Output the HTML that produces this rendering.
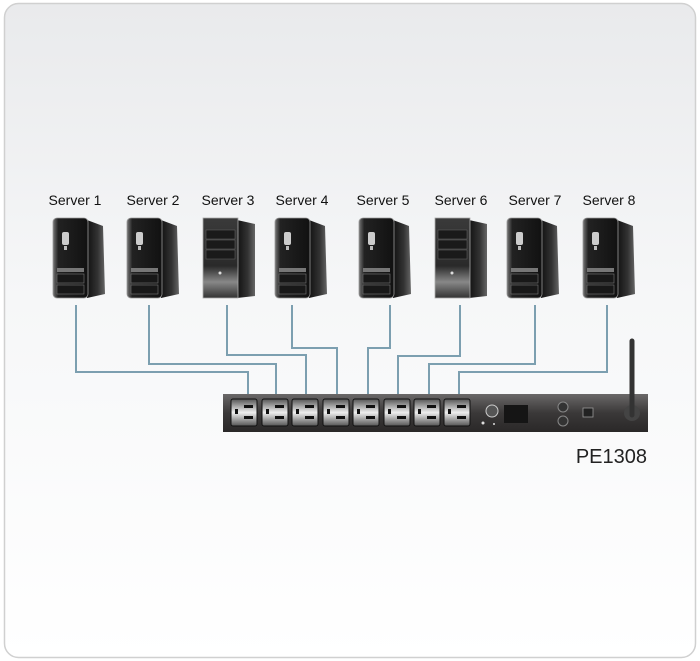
<!DOCTYPE html>
<html><head><style>
html,body{margin:0;padding:0;background:#fff;}
svg{display:block;}
text{font-family:"Liberation Sans",Arial,sans-serif;}
</style></head><body>
<svg width="700" height="661" viewBox="0 0 700 661" xmlns="http://www.w3.org/2000/svg">
<defs>
<linearGradient id="bg" x1="0" y1="0" x2="0" y2="1">
<stop offset="0" stop-color="#e9eaec"/><stop offset="0.45" stop-color="#f6f7f8"/><stop offset="1" stop-color="#ffffff"/>
</linearGradient>
<linearGradient id="front" x1="0" y1="0" x2="1" y2="0">
<stop offset="0" stop-color="#777"/><stop offset="0.15" stop-color="#222"/><stop offset="1" stop-color="#111"/>
</linearGradient>
<linearGradient id="side" x1="0" y1="0" x2="1" y2="0">
<stop offset="0" stop-color="#111"/><stop offset="0.6" stop-color="#333"/><stop offset="1" stop-color="#666"/>
</linearGradient>
<linearGradient id="frontB" x1="0" y1="0" x2="0" y2="1">
<stop offset="0" stop-color="#3a3a3a"/><stop offset="0.6" stop-color="#2a2a2a"/><stop offset="0.8" stop-color="#888"/><stop offset="1" stop-color="#333"/>
</linearGradient>
<linearGradient id="bar" x1="0" y1="0" x2="0" y2="1">
<stop offset="0" stop-color="#6a6868"/><stop offset="0.5" stop-color="#3a3838"/><stop offset="1" stop-color="#2a2828"/>
</linearGradient>
<linearGradient id="out" x1="0" y1="0" x2="0" y2="1">
<stop offset="0" stop-color="#555"/><stop offset="0.5" stop-color="#eee"/><stop offset="1" stop-color="#555"/>
</linearGradient>
<g id="towA">
<path d="M34 2 L50 8 L52 76 L34 80 Z" fill="url(#side)"/>
<rect x="0" y="0" width="35" height="80" rx="4" fill="url(#front)" stroke="#999" stroke-width="0.8"/>
<rect x="9" y="14" width="7" height="13" rx="2" fill="#ccc"/>
<rect x="11" y="28" width="3" height="4" fill="#bbb"/>
<rect x="4" y="50" width="27" height="4" fill="#777"/>
<rect x="4" y="56" width="27" height="9" fill="#181818" stroke="#777" stroke-width="0.6"/>
<rect x="4" y="67" width="27" height="9" fill="#181818" stroke="#777" stroke-width="0.6"/>
</g>
<g id="towB">
<path d="M34 2 L52 6 L52 78 L34 80 Z" fill="url(#side)"/>
<rect x="0" y="0" width="35" height="80" fill="url(#frontB)" stroke="#aaa" stroke-width="0.8"/>
<rect x="3" y="12" width="29" height="9" fill="#1a1a1a" stroke="#666" stroke-width="0.5"/>
<rect x="3" y="22" width="29" height="9" fill="#1a1a1a" stroke="#666" stroke-width="0.5"/>
<rect x="3" y="32" width="29" height="9" fill="#1a1a1a" stroke="#666" stroke-width="0.5"/>
<circle cx="17" cy="55" r="1.5" fill="#ddd"/>
</g>
<g id="outlet">
<rect x="0" y="0" width="26" height="27" rx="2" fill="url(#out)" stroke="#111" stroke-width="1"/>
<rect x="4" y="10" width="3" height="5" fill="#111"/>
<rect x="13" y="6" width="9" height="3" fill="#111"/>
<rect x="13" y="17" width="9" height="3" fill="#111"/>
</g>
</defs>
<rect x="0" y="0" width="700" height="661" fill="#fff"/>
<rect x="4.5" y="3.5" width="691" height="654" rx="14" fill="url(#bg)" stroke="#d0d0d0" stroke-width="1.5"/>

<g font-size="14" fill="#111" text-anchor="middle">
<text x="75" y="205">Server 1</text>
<text x="153" y="205">Server 2</text>
<text x="228" y="205">Server 3</text>
<text x="302" y="205">Server 4</text>
<text x="383" y="205">Server 5</text>
<text x="461" y="205">Server 6</text>
<text x="535" y="205">Server 7</text>
<text x="609" y="205">Server 8</text>
</g>

<use href="#towA" x="53" y="218"/>
<use href="#towA" x="127" y="218"/>
<use href="#towB" x="203" y="218"/>
<use href="#towA" x="275" y="218"/>
<use href="#towA" x="359" y="218"/>
<use href="#towB" x="435" y="218"/>
<use href="#towA" x="507" y="218"/>
<use href="#towA" x="583" y="218"/>

<g fill="none" stroke="#7c9fb0" stroke-width="2">
<polyline points="76,305 76,372 248,372 248,395"/>
<polyline points="149,305 149,364 276,364 276,395"/>
<polyline points="227,305 227,355 306,355 306,395"/>
<polyline points="292,305 292,348 337,348 337,395"/>
<polyline points="390,305 390,348 368,348 368,395"/>
<polyline points="460,305 460,356 398,356 398,395"/>
<polyline points="535,305 535,364 429,364 429,395"/>
<polyline points="607,305 607,372 459,372 459,395"/>
</g>

<rect x="223" y="394" width="425" height="38" fill="url(#bar)"/>
<use href="#outlet" x="231" y="399"/>
<use href="#outlet" x="262" y="399"/>
<use href="#outlet" x="292" y="399"/>
<use href="#outlet" x="323" y="399"/>
<use href="#outlet" x="353" y="399"/>
<use href="#outlet" x="384" y="399"/>
<use href="#outlet" x="414" y="399"/>
<use href="#outlet" x="444" y="399"/>
<circle cx="492" cy="411" r="6" fill="#555" stroke="#ccc" stroke-width="1"/>
<rect x="504" y="405" width="24" height="18" fill="#151515"/>
<circle cx="483" cy="423" r="1.5" fill="#ddd"/>
<circle cx="494" cy="424" r="1" fill="#ddd"/>
<circle cx="563" cy="407" r="5" fill="#333" stroke="#888"/>
<circle cx="563" cy="421" r="5" fill="#333" stroke="#888"/>
<rect x="583" y="408" width="10" height="9" fill="#222" stroke="#999" stroke-width="0.8"/>
<circle cx="632" cy="413" r="8" fill="#444"/>
<line x1="632" y1="341" x2="632" y2="415" stroke="#333" stroke-width="5" stroke-linecap="round"/>

<text x="647" y="463" font-size="20" fill="#222" text-anchor="end">PE1308</text>
</svg>
</body></html>
